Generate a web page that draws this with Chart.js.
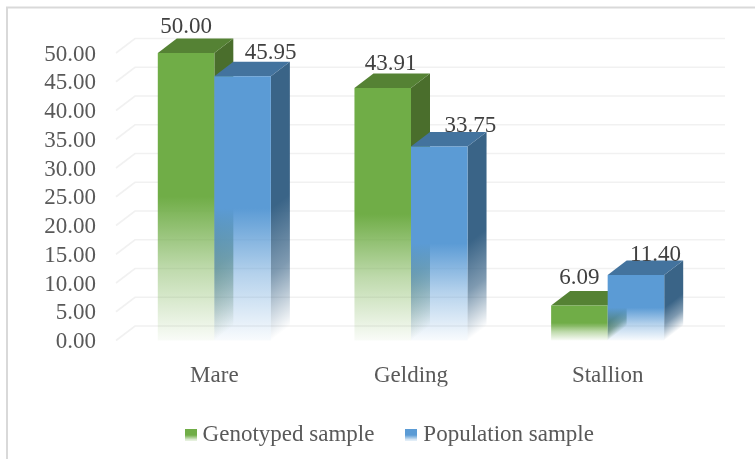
<!DOCTYPE html>
<html>
<head>
<meta charset="utf-8">
<style>html,body{margin:0;padding:0;background:#fff}canvas{display:block}</style>
<script src="https://cdn.jsdelivr.net/npm/chart.js@4"></script>
</head>
<body>
<canvas id="c" width="755" height="459"></canvas>
<script>
const categories = ["Mare", "Gelding", "Stallion"];
const genotyped = [50.00, 43.91, 6.09];
const population = [45.95, 33.75, 11.40];
const seriesNames = ["Genotyped sample", "Population sample"];
const yMin = 0, yMax = 50, yStep = 5;

const FONT = "'Liberation Serif', serif";
const DEPTH_X = 19, DEPTH_Y = 14.5;
// horizontal / vertical nudges of the value labels relative to the bar's centre
const labelShiftX = [[0, 8, 0], [28, 31, 19.5]];
const labelGapY = [[20, 18, 21], [17, 14, 14]];
const palette = [
  {front: [112,173,71], side: [74,110,44], top: [85,130,52]},
  {front: [91,155,213], side: [58,100,135], top: [67,115,158]}
];
const rgba = (c, a) => `rgba(${c[0]},${c[1]},${c[2]},${a})`;

function frontFill(ds) {
  return (ctx) => {
    const c = palette[ds].front;
    const sc = ctx.chart.scales.y;
    if (!sc || ctx.dataIndex === undefined || !ctx.parsed) return rgba(c, 1);
    const top = sc.getPixelForValue(ctx.parsed.y), base = sc.getPixelForValue(0);
    if (!isFinite(top) || !isFinite(base)) return rgba(c, 1);
    const g = ctx.chart.ctx.createLinearGradient(0, top, 0, base);
    g.addColorStop(0, rgba(c, 1));
    g.addColorStop(0.5, rgba(c, 1));
    g.addColorStop(0.75, rgba(c, 0.45));
    g.addColorStop(1, rgba(c, 0.04));
    return g;
  };
}

function swatch(c) {
  const s = document.createElement('canvas');
  s.width = 12; s.height = 12;
  const x = s.getContext('2d');
  const g = x.createLinearGradient(0, 0, 0, 12);
  g.addColorStop(0, rgba(c, 1));
  g.addColorStop(0.55, rgba(c, 1));
  g.addColorStop(1, rgba(c, 0.1));
  x.fillStyle = g;
  x.fillRect(0, 0, 12, 12);
  return s;
}

function drawBarDepth(chart, dsIndex) {
  const ctx = chart.ctx, meta = chart.getDatasetMeta(dsIndex), col = palette[dsIndex];
  meta.data.forEach((bar) => {
    const half = bar.width / 2;
    const r = bar.x + half, l = bar.x - half, t = bar.y, b = bar.base;
    const midY = t + (b - t) * 0.5;
    // normal to the slanted bottom edge of the side face
    const nx = DEPTH_Y, ny = DEPTH_X;
    const k = ((b - midY) * ny) / (nx * nx + ny * ny);
    const g = ctx.createLinearGradient(r, midY, r + k * nx, midY + k * ny);
    g.addColorStop(0, rgba(col.side, 1));
    g.addColorStop(0.5, rgba(col.side, 0.65));
    g.addColorStop(1, rgba(col.side, 0));
    ctx.save();
    ctx.fillStyle = g;
    ctx.beginPath();
    ctx.moveTo(r, t);
    ctx.lineTo(r + DEPTH_X, t - DEPTH_Y);
    ctx.lineTo(r + DEPTH_X, b - DEPTH_Y);
    ctx.lineTo(r, b);
    ctx.closePath();
    ctx.fill();
    ctx.fillStyle = rgba(col.top, 1);
    ctx.beginPath();
    ctx.moveTo(l, t);
    ctx.lineTo(l + DEPTH_X, t - DEPTH_Y);
    ctx.lineTo(r + DEPTH_X, t - DEPTH_Y);
    ctx.lineTo(r, t);
    ctx.closePath();
    ctx.fill();
    ctx.restore();
  });
}

const depth3d = {
  id: 'depth3d',
  afterLayout(chart) { chart.legend.left = 78; },
  beforeDraw(chart) {
    const ctx = chart.ctx;
    ctx.save();
    ctx.fillStyle = '#fff';
    ctx.fillRect(0, 0, chart.width, chart.height);
    ctx.strokeStyle = '#d9d9d9';
    ctx.lineWidth = 2;
    ctx.beginPath();
    ctx.moveTo(7, chart.height);
    ctx.lineTo(7, 7.5);
    ctx.lineTo(chart.width, 7.5);
    ctx.stroke();
    ctx.restore();
  },
  beforeDatasetsDraw(chart) {
    const ctx = chart.ctx, a = chart.chartArea, y = chart.scales.y;
    ctx.save();
    ctx.strokeStyle = '#f1f1f1';
    ctx.lineWidth = 1.6;
    y.ticks.forEach((tk) => {
      const p = y.getPixelForValue(tk.value);
      ctx.beginPath();
      ctx.moveTo(a.left, p);
      ctx.lineTo(a.left + DEPTH_X, p - DEPTH_Y);
      ctx.lineTo(a.right + DEPTH_X, p - DEPTH_Y);
      ctx.stroke();
    });
    ctx.restore();
    // the right-hand series has to sit in front of the left-hand one's side face
    [0, 1].forEach((d) => {
      drawBarDepth(chart, d);
      chart.getDatasetMeta(d).controller.draw();
    });
  },
  beforeDatasetDraw() { return false; },
  afterDatasetsDraw(chart) {
    const ctx = chart.ctx;
    ctx.save();
    ctx.font = `23px ${FONT}`;
    ctx.fillStyle = '#404040';
    ctx.textAlign = 'center';
    ctx.textBaseline = 'alphabetic';
    chart.data.datasets.forEach((ds, d) => {
      chart.getDatasetMeta(d).data.forEach((bar, i) => {
        ctx.fillText(ds.data[i].toFixed(2), bar.x + labelShiftX[d][i], bar.y - labelGapY[d][i]);
      });
    });
    ctx.restore();
  }
};

new Chart(document.getElementById('c'), {
  type: 'bar',
  data: {
    labels: categories,
    datasets: [
      {label: seriesNames[0], data: genotyped, backgroundColor: frontFill(0), borderWidth: 0},
      {label: seriesNames[1], data: population, backgroundColor: frontFill(1), borderWidth: 0}
    ]
  },
  options: {
    responsive: false,
    animation: false,
    layout: {padding: {top: 53, right: 49, left: 0, bottom: 3}},
    datasets: {bar: {categoryPercentage: 0.575, barPercentage: 1}},
    plugins: {
      tooltip: {enabled: false},
      legend: {
        position: 'bottom',
        labels: {
          usePointStyle: true,
          pointStyleWidth: 1,
          boxHeight: 12,
          padding: 36.5,
          color: '#595959',
          font: {family: FONT, size: 23},
          generateLabels: (chart) => chart.data.datasets.map((ds, i) => ({
            text: ds.label, datasetIndex: i, pointStyle: swatch(palette[i].front),
            fontColor: '#595959', lineWidth: 0, strokeStyle: 'transparent', fillStyle: rgba(palette[i].front, 1)
          }))
        }
      }
    },
    scales: {
      x: {
        grid: {display: false},
        border: {display: false},
        ticks: {color: '#595959', font: {family: FONT, size: 23}, padding: 14, maxRotation: 0},
        afterFit: (s) => { s.height = 46; }
      },
      y: {
        min: yMin, max: yMax,
        grid: {display: false},
        border: {display: false},
        ticks: {
          stepSize: yStep, autoSkip: false, color: '#595959', font: {family: FONT, size: 23}, padding: 12,
          labelOffset: 1.5,
          callback: (v) => Number(v).toFixed(2)
        },
        afterFit: (s) => { s.width = 116; }
      }
    }
  },
  plugins: [depth3d]
});
</script>
</body>
</html>
